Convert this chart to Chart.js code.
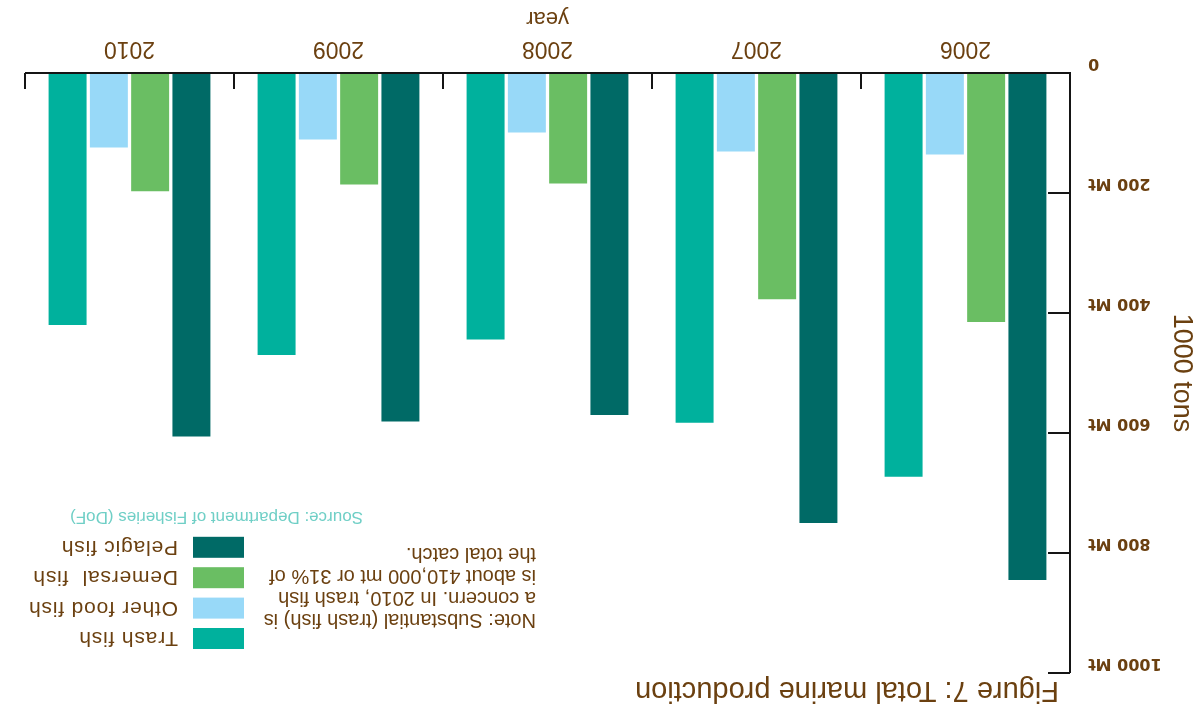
<!DOCTYPE html>
<html>
<head>
<meta charset="utf-8">
<script src="https://cdn.jsdelivr.net/npm/chart.js@4"></script>
<style>
  html, body { margin: 0; padding: 0; background: #fff; overflow: hidden; }
  #wrap { width: 1204px; height: 711px; transform: rotate(180deg); transform-origin: 50% 50%; }
  canvas { display: block; }
</style>
</head>
<body>
<div id="wrap"><canvas id="c" width="1204" height="711"></canvas></div>
<script>
// Marine production by group, thousand tons
const years = ['2006', '2007', '2008', '2009', '2010'];
const pelagic = [845, 750, 570, 581, 606];
const demersal = [415, 377, 184, 186, 197];
const otherFood = [136, 131, 99, 111, 124];
const trash = [673, 583, 444, 470, 420];

const yTickValues = [0, 200, 400, 600, 800, 1000];
const yTickLabels = ['0', '200 Mt', '400 Mt', '600 Mt', '800 Mt', '1000 Mt'];

const seriesNames = ['Pelagic fish', 'Demersal  fish', 'Other food fish', 'Trash fish'];
const seriesColors = ['#006A66', '#6ABE63', '#98D9F8', '#00B19D'];

const titleText = 'Figure 7: Total marine production';
const noteLines = [
  'Note: Substantial (trash fish) is',
  'a concern. In 2010, trash fish',
  'is about 410,000 mt or 31% of',
  'the total catch.'
];
const sourceText = 'Source: Department of Fisheries (DoF)';

const BROWN = '#6B4010';
const SANS = '"Liberation Sans", Arial, sans-serif';

// Axis lines with inward tick marks, and value labels beside the axis
const frame = {
  id: 'frame',
  beforeDatasetsDraw(chart) {
    const { ctx, scales: { x, y } } = chart;
    ctx.save();
    ctx.strokeStyle = '#151515';
    ctx.lineWidth = 2;
    ctx.beginPath();
    y.ticks.forEach(t => {
      const py = Math.round(y.getPixelForValue(t.value));
      ctx.moveTo(x.left, py);
      ctx.lineTo(x.left + 22, py);
    });
    ctx.stroke();
    ctx.restore();
  },
  afterDatasetsDraw(chart) {
    const { ctx, scales: { x, y } } = chart;
    const y0 = Math.round(y.getPixelForValue(0));
    const yTop = Math.round(y.getPixelForValue(1000));
    const xl = Math.round(x.left);
    ctx.save();
    ctx.strokeStyle = '#151515';
    ctx.lineWidth = 2;
    ctx.beginPath();
    ctx.moveTo(xl, yTop);
    ctx.lineTo(xl, y0);
    ctx.lineTo(Math.round(x.right), y0);
    for (let i = 0; i <= years.length; i++) {
      const px = Math.round(x.getPixelForValue(i - 0.5));
      ctx.moveTo(px, y0);
      ctx.lineTo(px, y0 - 16);
    }
    ctx.stroke();

    // value labels, set just below each tick
    ctx.fillStyle = BROWN;
    ctx.font = 'bold 16px "DejaVu Sans", Verdana, sans-serif';
    ctx.textAlign = 'right';
    ctx.textBaseline = 'middle';
    y.ticks.forEach(t => {
      const label = yTickLabels[yTickValues.indexOf(t.value)];
      ctx.fillText(label, xl - 18, y.getPixelForValue(t.value) + 10);
    });
    ctx.restore();
  }
};

// Title, note, source line and legend
const annotations = {
  id: 'annotations',
  afterDraw(chart) {
    const { ctx } = chart;
    ctx.save();
    ctx.textBaseline = 'middle';
    ctx.textAlign = 'left';

    ctx.fillStyle = BROWN;
    ctx.font = '29px ' + SANS;
    ctx.fillText(titleText, 145, 21);

    ctx.font = '20px ' + SANS;
    noteLines.forEach((line, i) => ctx.fillText(line, 668, 91 + i * 22.3));

    ctx.fillStyle = '#6FCFC6';
    ctx.font = '17px ' + SANS;
    ctx.fillText(sourceText, 841, 194);

    // legend: listed in reverse dataset order
    ctx.font = '21px ' + SANS;
    ctx.letterSpacing = '0.8px';
    const ds = chart.data.datasets;
    for (let k = 0; k < ds.length; k++) {
      const d = ds[ds.length - 1 - k];
      const top = 62 + k * 30.4;
      ctx.fillStyle = d.backgroundColor;
      ctx.fillRect(960, top, 51, 21);
      ctx.fillStyle = BROWN;
      ctx.fillText(d.label, 1026, top + 11);
    }
    ctx.restore();
  }
};

const datasets = [pelagic, demersal, otherFood, trash].map((values, i) => ({
  label: seriesNames[i],
  data: values,
  backgroundColor: seriesColors[i],
  borderWidth: 0
}));

new Chart(document.getElementById('c'), {
  type: 'bar',
  data: { labels: years, datasets },
  options: {
    responsive: false,
    animation: false,
    events: [],
    layout: { padding: { left: 0, right: 25, top: 38, bottom: 0 } },
    plugins: { legend: { display: false }, tooltip: { enabled: false } },
    datasets: { bar: { categoryPercentage: 0.79, barPercentage: 0.92 } },
    scales: {
      x: {
        grid: { display: false, drawTicks: false },
        border: { display: false },
        ticks: { padding: 11, color: BROWN, font: { family: SANS, size: 23 } },
        title: { display: true, text: 'year', color: BROWN, font: { family: SANS, size: 22 }, padding: { top: 0, bottom: 5 } },
        afterFit(s) { s.height = 73; }
      },
      y: {
        min: 0,
        max: 1000,
        grid: { display: false, drawTicks: false },
        border: { display: false },
        ticks: { stepSize: 200, display: false },
        title: { display: true, text: '1000 tons', color: BROWN, font: { family: SANS, size: 27 }, padding: { top: 6, bottom: 0 } },
        afterFit(s) { s.width = 134; }
      }
    }
  },
  plugins: [frame, annotations]
});
</script>
</body>
</html>
